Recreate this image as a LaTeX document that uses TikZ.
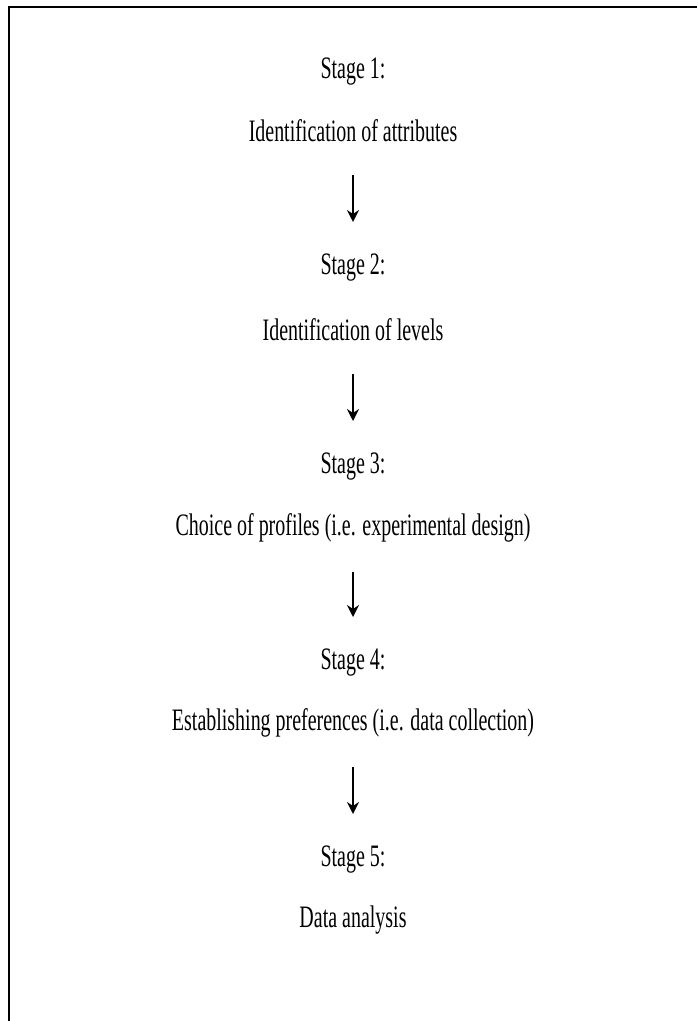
\documentclass[tikz,border=0pt]{standalone}
\usepackage{fontspec}
\setmainfont{Liberation Serif}[FakeStretch=0.64]
\usetikzlibrary{arrows.meta}
\begin{document}
\begin{tikzpicture}[x=0.5pt,y=-0.5pt,
  stage node/.style={font=\fontsize{15.6}{18}\selectfont,inner sep=0pt},
  step arrow/.style={-{Stealth[length=6pt,width=6pt,inset=2pt]},line width=1pt,shorten <=22pt,shorten >=23pt},
  frame line/.style={line width=1.3pt}]

  \useasboundingbox (0,0) rectangle (697,1021);
  \draw[frame line] (9,1021) |- (697,7);

  \node[stage node] (s1) at (353,72) {Stage 1:};
  \node[stage node] (t1) at (353,131) {Identification of attributes};
  \node[stage node] (s2) at (353,268) {Stage 2:};
  \node[stage node] (t2) at (353,330) {Identification of levels};
  \node[stage node] (s3) at (353,467) {Stage 3:};
  \node[stage node] (t3) at (353,528) {Choice of profiles (i.e. experimental design)};
  \node[stage node] (s4) at (353,663) {Stage 4:};
  \node[stage node] (t4) at (353,723) {Establishing preferences (i.e. data collection)};
  \node[stage node] (s5) at (353,860) {Stage 5:};
  \node[stage node] (t5) at (353,920) {Data analysis};

  % one arrow between each pair of stages
  \foreach \a/\b in {t1/s2,t2/s3,t3/s4,t4/s5}
    \draw[step arrow] (\a.center) -- (\b.center);
\end{tikzpicture}
\end{document}
